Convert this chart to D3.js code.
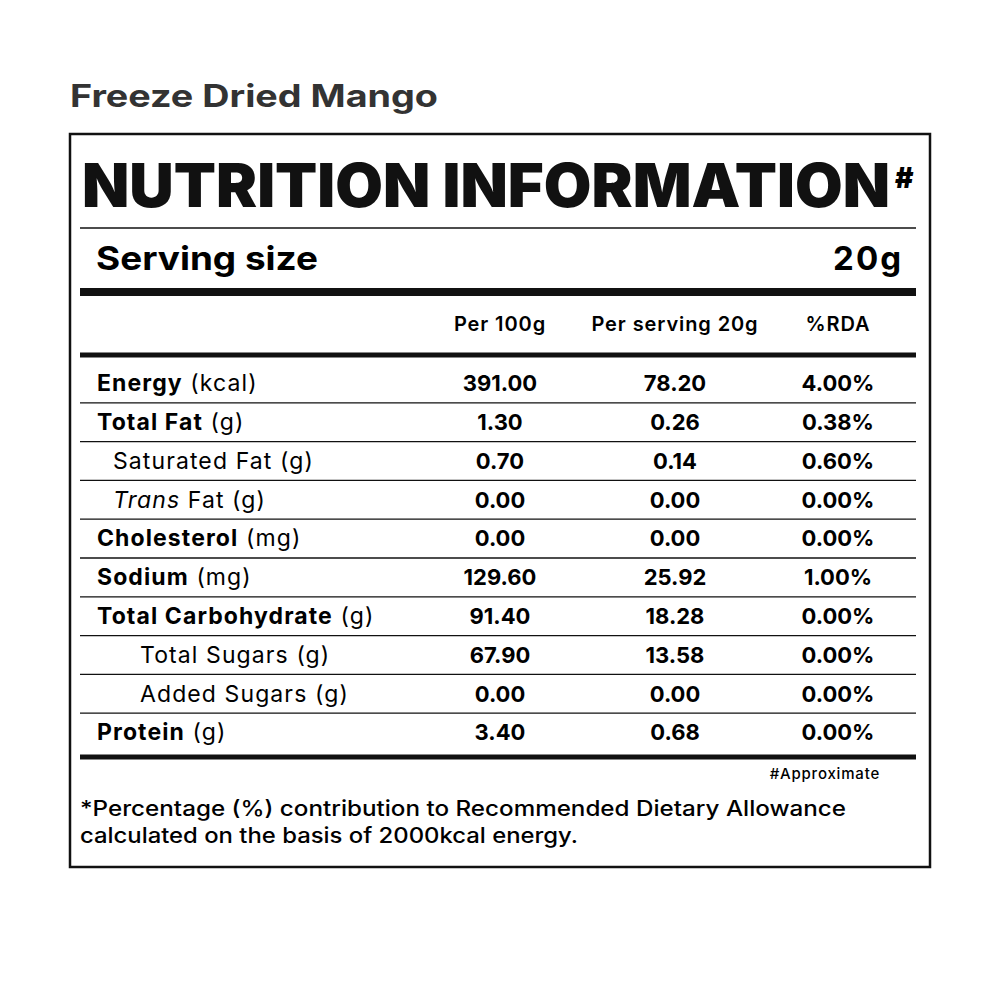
<!DOCTYPE html>
<html>
<head>
<meta charset="utf-8">
<script src="https://cdn.jsdelivr.net/npm/d3@7"></script>
<style>
  body { margin: 0; background: #fff; }
  text { font-family: Inter, "Open Sans", sans-serif; }
</style>
</head>
<body>
<div id="chart"></div>
<script>
// Data
var nutrients = ["Energy", "Total Fat", "Saturated Fat", "Trans", "Cholesterol", "Sodium",
                 "Total Carbohydrate", "Total Sugars", "Added Sugars", "Protein"];
var units = ["(kcal)", "(g)", "(g)", "Fat (g)", "(mg)", "(mg)", "(g)", "(g)", "(g)", "(g)"];
var levels = [0, 0, 1, 1, 0, 0, 0, 2, 2, 0];
var per100 = ["391.00", "1.30", "0.70", "0.00", "0.00", "129.60", "91.40", "67.90", "0.00", "3.40"];
var perServing = ["78.20", "0.26", "0.14", "0.00", "0.00", "25.92", "18.28", "13.58", "0.00", "0.68"];
var rda = ["4.00%", "0.38%", "0.60%", "0.00%", "0.00%", "1.00%", "0.00%", "0.00%", "0.00%", "0.00%"];
var columns = ["Per 100g", "Per serving 20g", "%RDA"];

var svg = d3.select("#chart").append("svg")
  .attr("width", 1001).attr("height", 1001);

// product title
svg.append("text").attr("x", 70).attr("y", 107)
  .attr("textLength", 368).attr("lengthAdjust", "spacingAndGlyphs")
  .style("font-size", "31px").style("font-weight", 700).style("fill", "#333")
  .text("Freeze Dried Mango");

// outer box
svg.append("rect").attr("x", 70).attr("y", 134).attr("width", 860).attr("height", 733)
  .attr("fill", "none").attr("stroke", "#111").attr("stroke-width", 2.5);

svg.append("text").attr("x", 82).attr("y", 207)
  .attr("textLength", 808).attr("lengthAdjust", "spacingAndGlyphs")
  .style("font-size", "60px").style("font-weight", 900).style("fill", "#111")
  .text("NUTRITION INFORMATION");
svg.append("text").attr("x", 895).attr("y", 188)
  .style("font-size", "28px").style("font-weight", 900).text("#");

function hline(y, w) {
  svg.append("line").attr("x1", 80).attr("x2", 916).attr("y1", y).attr("y2", y)
    .attr("stroke", "#111").attr("stroke-width", w);
}
hline(228, 1.5);

svg.append("text").attr("x", 96).attr("y", 270)
  .attr("textLength", 222).attr("lengthAdjust", "spacingAndGlyphs")
  .style("font-size", "33px").style("font-weight", 700).text("Serving size");
svg.append("text").attr("x", 903).attr("y", 270).attr("text-anchor", "end")
  .style("font-size", "33px").style("font-weight", 700).style("letter-spacing", "2px").text("20g");
hline(292, 8);

var colX = [500, 675, 838];
svg.selectAll(".colhead").data(columns).enter().append("text")
  .attr("x", function(d, i) { return colX[i]; }).attr("y", 331)
  .attr("text-anchor", "middle")
  .style("font-size", "20px").style("font-weight", 600).style("letter-spacing", "0.9px")
  .text(function(d) { return d; });
hline(355, 5);

var y = d3.scaleLinear().domain([0, nutrients.length]).range([364, 752]);
var rowH = y(1) - y(0);

nutrients.forEach(function(n, i) {
  var base = y(i) + rowH * 0.7;
  var t = svg.append("text").attr("x", [97, 113, 140][levels[i]]).attr("y", base)
    .style("font-size", "23px").style("letter-spacing", "1.1px");
  if (n === "Trans") {
    t.append("tspan").style("font-style", "italic").style("font-weight", 400).text("Trans");
    t.append("tspan").style("font-weight", 400).text(" Fat (g)");
  } else if (levels[i] === 0) {
    t.append("tspan").style("font-weight", 700).text(n);
    t.append("tspan").style("font-weight", 400).text(" " + units[i]);
  } else {
    t.append("tspan").style("font-weight", 400).text(n + " " + units[i]);
  }
  [per100[i], perServing[i], rda[i]].forEach(function(v, j) {
    svg.append("text").attr("x", colX[j]).attr("y", base).attr("text-anchor", "middle")
      .style("font-size", "22px").style("font-weight", 700).text(v);
  });
  if (i < nutrients.length - 1) hline(y(i + 1), 1.3);
});
hline(757, 5);

svg.append("text").attr("x", 880).attr("y", 779).attr("text-anchor", "end")
  .style("font-size", "15px").style("font-weight", 500).style("letter-spacing", "0.8px").text("#Approximate");
svg.append("text").attr("x", 80).attr("y", 816)
  .attr("textLength", 766).attr("lengthAdjust", "spacingAndGlyphs")
  .style("font-size", "21px").style("font-weight", 500)
  .text("*Percentage (%) contribution to Recommended Dietary Allowance");
svg.append("text").attr("x", 80).attr("y", 843)
  .attr("textLength", 498).attr("lengthAdjust", "spacingAndGlyphs")
  .style("font-size", "21px").style("font-weight", 500)
  .text("calculated on the basis of 2000kcal energy.");
</script>
</body>
</html>
